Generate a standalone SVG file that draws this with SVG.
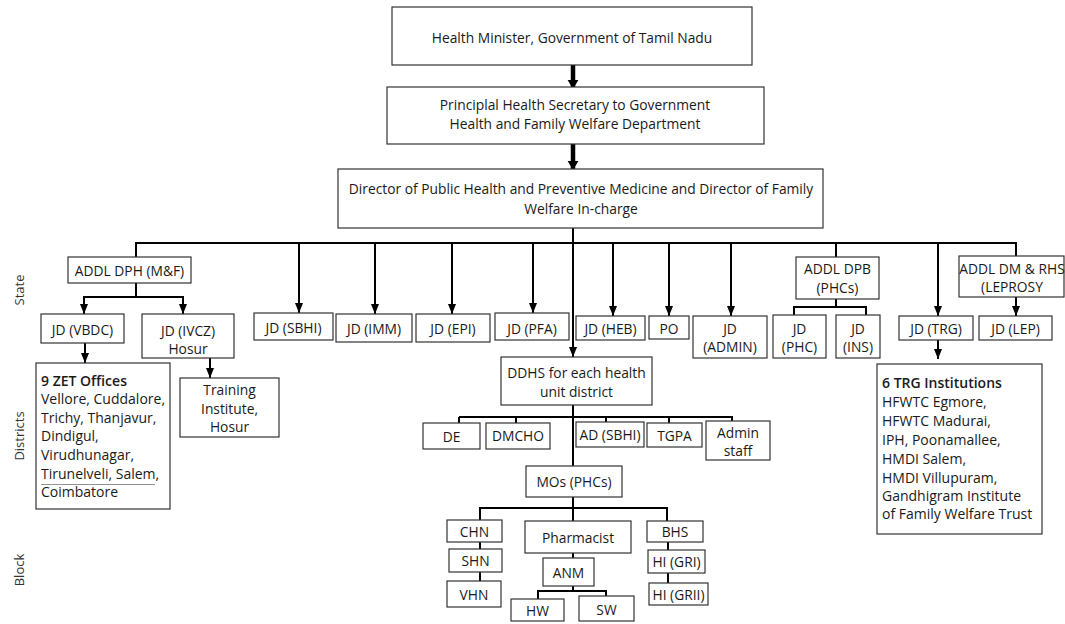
<svg xmlns="http://www.w3.org/2000/svg" width="1065" height="624" viewBox="0 0 1065 624">
<defs>
<marker id="ah" viewBox="0 0 10 8" refX="10" refY="4" markerWidth="10" markerHeight="8" markerUnits="userSpaceOnUse" orient="auto"><path d="M0,0 L10,4 L0,8 Z" fill="#000"/></marker>
<marker id="ahb" viewBox="0 0 10 12" refX="10" refY="6" markerWidth="9" markerHeight="12" markerUnits="userSpaceOnUse" orient="auto"><path d="M0,0 L10,6 L0,12 Z" fill="#000"/></marker>
<style>
.box{fill:#fff;stroke:#333;stroke-width:1.2}
text{font-family:"Open Sans","Noto Sans","Liberation Sans",sans-serif;font-size:13.8px;fill:#1a1a1a;dominant-baseline:central}
.c{text-anchor:middle}
.l{font-size:14px}
.b{font-weight:600}
.side{font-size:13px;fill:#333;text-anchor:middle}
#connectors line,#connectors polyline{stroke:#000;stroke-width:2;fill:none}
#connectors .thick{stroke-width:4.5}
#connectors .a{marker-end:url(#ah)}
</style>
</defs>
<g id="side-labels">
<text class="side" transform="translate(19,290) rotate(-90)">State</text>
<text class="side" transform="translate(19,436) rotate(-90)">Districts</text>
<text class="side" transform="translate(19,570) rotate(-90)">Block</text>
</g>
<g id="connectors">
<line class="thick" x1="573" y1="65" x2="573" y2="89" marker-end="url(#ahb)"/>
<line class="thick" x1="573" y1="144" x2="573" y2="170" marker-end="url(#ahb)"/>
<line class="a" x1="573" y1="228" x2="573" y2="357"/>
<line x1="135" y1="243" x2="1017" y2="243"/>
<line x1="136" y1="243" x2="136" y2="257"/>
<line class="a" x1="299" y1="243" x2="299" y2="313"/>
<line class="a" x1="375" y1="243" x2="375" y2="314"/>
<line class="a" x1="452" y1="243" x2="452" y2="314"/>
<line class="a" x1="533" y1="243" x2="533" y2="313"/>
<line class="a" x1="613" y1="243" x2="613" y2="316"/>
<line class="a" x1="669" y1="243" x2="669" y2="316"/>
<line class="a" x1="731" y1="243" x2="731" y2="316"/>
<line x1="836" y1="243" x2="836" y2="257"/>
<line class="a" x1="938" y1="243" x2="938" y2="316"/>
<line x1="1016" y1="243" x2="1016" y2="256"/>
<line x1="136" y1="283" x2="136" y2="297"/>
<line x1="83" y1="297" x2="184" y2="297"/>
<line class="a" x1="84" y1="297" x2="84" y2="314"/>
<line class="a" x1="183" y1="297" x2="183" y2="314"/>
<line class="a" x1="85" y1="343" x2="85" y2="363"/>
<line class="a" x1="210" y1="358" x2="210" y2="378"/>
<line x1="836" y1="299" x2="836" y2="307"/>
<polyline points="794,315 794,307 866,307 866,315"/>
<line class="a" x1="1016" y1="297" x2="1016" y2="316"/>
<line class="a" x1="938" y1="340" x2="938" y2="359"/>
<line x1="573" y1="405" x2="573" y2="466"/>
<line x1="459" y1="417" x2="733" y2="417"/>
<line x1="459" y1="417" x2="459" y2="423"/>
<line x1="516" y1="417" x2="516" y2="423"/>
<line x1="606" y1="417" x2="606" y2="422"/>
<line x1="669" y1="417" x2="669" y2="423"/>
<line x1="732" y1="417" x2="732" y2="421"/>
<line x1="573" y1="497" x2="573" y2="521"/>
<polyline points="480,520 480,508 667,508 667,521"/>
<line x1="480" y1="542" x2="480" y2="549"/>
<line x1="480" y1="572" x2="480" y2="581"/>
<line x1="573" y1="553" x2="573" y2="558"/>
<line x1="573" y1="586" x2="573" y2="591"/>
<polyline points="538,599 538,591 606,591 606,596"/>
<line x1="668" y1="542" x2="668" y2="550"/>
<line x1="668" y1="573" x2="668" y2="583"/>
</g>
<g id="n-minister"><rect class="box" x="392" y="7" width="360" height="58"/><text class="c" x="572" y="37">Health Minister, Government of Tamil Nadu</text></g>
<g id="n-secretary"><rect class="box" x="387" y="87" width="377" height="57"/><text class="c" x="575" y="104">Principlal Health Secretary to Government</text><text class="c" x="575" y="123">Health and Family Welfare Department</text></g>
<g id="n-director"><rect class="box" x="338" y="169" width="485" height="59"/><text class="c" x="581" y="188">Director of Public Health and Preventive Medicine and Director of Family</text><text class="c" x="581" y="208">Welfare In-charge</text></g>
<g id="n-addl-dph"><rect class="box" x="68" y="257" width="123" height="26"/><text class="c" x="129.5" y="270">ADDL DPH (M&amp;F)</text></g>
<g id="n-jd-vbdc"><rect class="box" x="41" y="314" width="83" height="29"/><text class="c" x="82.5" y="329">JD (VBDC)</text></g>
<g id="n-jd-ivcz"><rect class="box" x="142" y="314" width="92" height="44"/><text class="c" x="188" y="330">JD (IVCZ)</text><text class="c" x="188" y="348">Hosur</text></g>
<g id="n-zet"><rect class="box" x="36" y="363" width="134" height="146"/>
<text class="l b" x="41" y="380">9 ZET Offices</text>
<text class="l" x="41" y="398">Vellore, Cuddalore,</text>
<text class="l" x="41" y="417">Trichy, Thanjavur,</text>
<text class="l" x="41" y="435">Dindigul,</text>
<text class="l" x="41" y="454">Virudhunagar,</text>
<text class="l" x="41" y="473">Tirunelveli, Salem,</text>
<text class="l" x="41" y="491">Coimbatore</text>
<line x1="41" y1="484.5" x2="155" y2="484.5" stroke="#777" stroke-width="0.8"/></g>
<g id="n-training"><rect class="box" x="180" y="378" width="99" height="59"/><text class="c" x="229.5" y="389">Training</text><text class="c" x="229.5" y="408">Institute,</text><text class="c" x="229.5" y="426">Hosur</text></g>
<g id="n-jd-sbhi"><rect class="box" x="254" y="313" width="79" height="27"/><text class="c" x="293.5" y="327">JD (SBHI)</text></g>
<g id="n-jd-imm"><rect class="box" x="336" y="314" width="76" height="28"/><text class="c" x="374" y="328">JD (IMM)</text></g>
<g id="n-jd-epi"><rect class="box" x="416" y="314" width="74" height="28"/><text class="c" x="453" y="328">JD (EPI)</text></g>
<g id="n-jd-pfa"><rect class="box" x="495" y="313" width="74" height="27"/><text class="c" x="532" y="328">JD (PFA)</text></g>
<g id="n-jd-heb"><rect class="box" x="576" y="316" width="69" height="24"/><text class="c" x="610.5" y="328">JD (HEB)</text></g>
<g id="n-po"><rect class="box" x="649" y="316" width="40" height="23"/><text class="c" x="669" y="328">PO</text></g>
<g id="n-jd-admin"><rect class="box" x="693" y="316" width="74" height="42"/><text class="c" x="730" y="328">JD</text><text class="c" x="730" y="346">(ADMIN)</text></g>
<g id="n-addl-dpb"><rect class="box" x="796" y="257" width="83" height="42"/><text class="c" x="837.5" y="268">ADDL DPB</text><text class="c" x="837.5" y="287">(PHCs)</text></g>
<g id="n-jd-phc"><rect class="box" x="773" y="315" width="53" height="43"/><text class="c" x="799.5" y="328">JD</text><text class="c" x="799.5" y="346">(PHC)</text></g>
<g id="n-jd-ins"><rect class="box" x="836" y="315" width="44" height="43"/><text class="c" x="858" y="328">JD</text><text class="c" x="858" y="346">(INS)</text></g>
<g id="n-jd-trg"><rect class="box" x="899" y="316" width="74" height="24"/><text class="c" x="936" y="328">JD (TRG)</text></g>
<g id="n-addl-dm"><rect class="box" x="959" y="256" width="105" height="41"/><text class="c" x="1012" y="268">ADDL DM &amp; RHS</text><text class="c" x="1012" y="286">(LEPROSY</text></g>
<g id="n-jd-lep"><rect class="box" x="979" y="316" width="73" height="24"/><text class="c" x="1015.5" y="328">JD (LEP)</text></g>
<g id="n-trg"><rect class="box" x="877" y="364" width="165" height="170"/>
<text class="l b" x="882" y="382">6 TRG Institutions</text>
<text class="l" x="882" y="401">HFWTC Egmore,</text>
<text class="l" x="882" y="420">HFWTC Madurai,</text>
<text class="l" x="882" y="439">IPH, Poonamallee,</text>
<text class="l" x="882" y="458">HMDI Salem,</text>
<text class="l" x="882" y="477">HMDI Villupuram,</text>
<text class="l" x="882" y="495">Gandhigram Institute</text>
<text class="l" x="882" y="513">of Family Welfare Trust</text></g>
<g id="n-ddhs"><rect class="box" x="501" y="357" width="151" height="48"/><text class="c" x="576.5" y="372">DDHS for each health</text><text class="c" x="576.5" y="391">unit district</text></g>
<g id="n-de"><rect class="box" x="423" y="423" width="57" height="26"/><text class="c" x="451.5" y="436">DE</text></g>
<g id="n-dmcho"><rect class="box" x="486" y="423" width="64" height="26"/><text class="c" x="518" y="435">DMCHO</text></g>
<g id="n-ad-sbhi"><rect class="box" x="576" y="422" width="68" height="25"/><text class="c" x="610" y="434">AD (SBHI)</text></g>
<g id="n-tgpa"><rect class="box" x="647" y="423" width="55" height="24"/><text class="c" x="674.5" y="435">TGPA</text></g>
<g id="n-admin-staff"><rect class="box" x="706" y="421" width="64" height="39"/><text class="c" x="738" y="432">Admin</text><text class="c" x="738" y="450">staff</text></g>
<g id="n-mos"><rect class="box" x="526" y="466" width="96" height="31"/><text class="c" x="574" y="481">MOs (PHCs)</text></g>
<g id="n-chn"><rect class="box" x="447" y="520" width="55" height="22"/><text class="c" x="474.5" y="531">CHN</text></g>
<g id="n-shn"><rect class="box" x="449" y="549" width="53" height="23"/><text class="c" x="475.5" y="560">SHN</text></g>
<g id="n-vhn"><rect class="box" x="447" y="581" width="54" height="26"/><text class="c" x="474" y="594">VHN</text></g>
<g id="n-pharmacist"><rect class="box" x="525" y="521" width="106" height="32"/><text class="c" x="578" y="537">Pharmacist</text></g>
<g id="n-anm"><rect class="box" x="543" y="558" width="51" height="28"/><text class="c" x="568.5" y="572">ANM</text></g>
<g id="n-hw"><rect class="box" x="511" y="599" width="53" height="22"/><text class="c" x="537.5" y="610">HW</text></g>
<g id="n-sw"><rect class="box" x="579" y="596" width="55" height="25"/><text class="c" x="606.5" y="609">SW</text></g>
<g id="n-bhs"><rect class="box" x="647" y="521" width="56" height="21"/><text class="c" x="675" y="531">BHS</text></g>
<g id="n-hi-gri"><rect class="box" x="648" y="550" width="57" height="23"/><text class="c" x="676.5" y="561">HI (GRI)</text></g>
<g id="n-hi-grii"><rect class="box" x="649" y="583" width="59" height="22"/><text class="c" x="678.5" y="594">HI (GRII)</text></g>
</svg>
